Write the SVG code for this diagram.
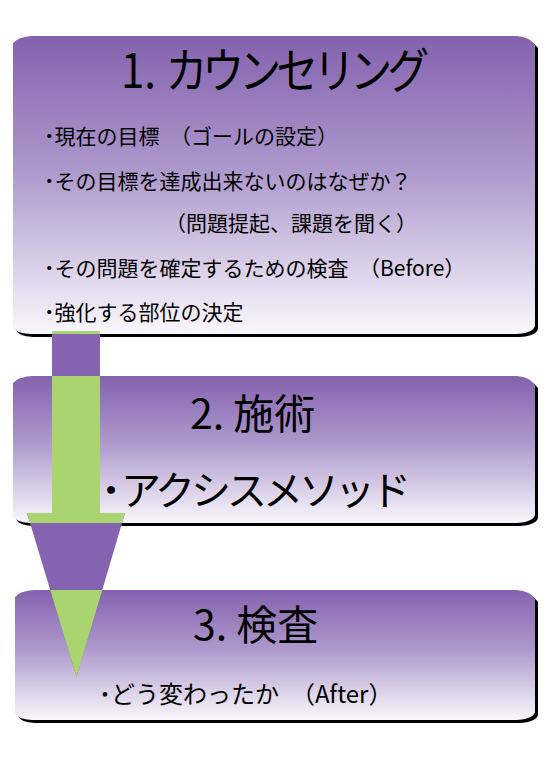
<svg xmlns="http://www.w3.org/2000/svg" xmlns:xlink="http://www.w3.org/1999/xlink" width="549" height="777" viewBox="0 0 549 777">
<defs>
<linearGradient id="g" x1="0" y1="0" x2="0" y2="1">
<stop offset="0" stop-color="#8462ae"/>
<stop offset="0.45" stop-color="#ad98cc"/>
<stop offset="1" stop-color="#f9f7fc"/>
</linearGradient>
<path id="b1" d="M13,43 Q18,37 32,36 L517,36 Q530,37 535,45 L535,326 Q533,333 516,334 L30,334 Q15,333 13,327 Z"/>
<path id="b2" d="M13,383 Q18,377 32,376 L517,376 Q530,377 535,385 L535,515 Q533,522 516,523 L30,523 Q15,522 13,516 Z"/>
<path id="b3" d="M15,597 Q20,591 34,590 L517,590 Q530,591 535,599 L535,712 Q533,719 516,720 L32,720 Q17,719 15,713 Z"/>
<clipPath id="boxes">
<use xlink:href="#b1"/><use xlink:href="#b2"/><use xlink:href="#b3"/>
</clipPath>
<path id="arrow" d="M52,331 L100,331 L100,513 L125,513 L76.5,677 L27,513 L52,513 Z"/>
</defs>
<style>
.shadow{fill:#000}
.box{fill:url(#g)}
text{font-family:"Noto Sans CJK JP","Noto Sans",sans-serif;fill:#000}
.title{font-size:41px}
.item{font-size:21px}
.big{font-size:40px}
.mid{font-size:24px}
.dot{font-weight:bold}
</style>
<g id="node1">
<use xlink:href="#b1" class="shadow" transform="translate(3,3)"/>
<use xlink:href="#b1" class="box"/>
<text class="title" x="121" y="88" style="font-size:42px" transform="translate(0,88) scale(1,1.13) translate(0,-88)">1. <tspan letter-spacing="-5">カウンセリング</tspan></text>
<text class="item" x="44" y="144"><tspan class="dot">･</tspan>現在の目標　（ゴールの設定）</text>
<text class="item" x="44" y="189"><tspan class="dot">･</tspan>その目標を達成出来ないのはなぜか？</text>
<text class="item" x="165" y="231">（問題提起、課題を聞く）</text>
<text class="item" x="44" y="276"><tspan class="dot">･</tspan>その問題を確定するための検査　（Before）</text>
<text class="item" x="44" y="320"><tspan class="dot">･</tspan>強化する部位の決定</text>
</g>
<g id="node2">
<use xlink:href="#b2" class="shadow" transform="translate(3,3)"/>
<use xlink:href="#b2" class="box"/>
<text class="title" x="190" y="429">2. 施術</text>
<text class="big" x="101" y="505"><tspan class="dot">･</tspan><tspan letter-spacing="-4">アクシスメソッド</tspan></text>
</g>
<g id="node3">
<use xlink:href="#b3" class="shadow" transform="translate(3,3)"/>
<use xlink:href="#b3" class="box"/>
<text class="title" x="193" y="640">3. 検査</text>
<text class="mid" x="99" y="703"><tspan class="dot">･</tspan>どう変わったか　（After）</text>
</g>
<g id="connectors">
<use xlink:href="#arrow" fill="#8464b0"/>
<use xlink:href="#arrow" fill="#a9d470" clip-path="url(#boxes)"/>
</g>
</svg>
